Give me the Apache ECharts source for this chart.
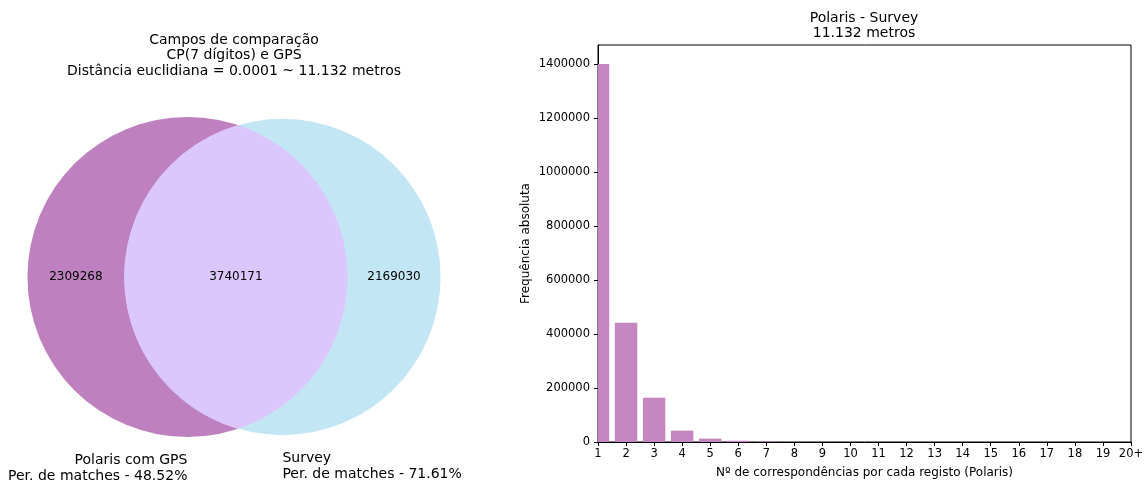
<!DOCTYPE html>
<html>
<head>
<meta charset="utf-8">
<script src="https://cdn.jsdelivr.net/npm/echarts@6/dist/echarts.min.js"></script>
<style>
  html, body { margin: 0; padding: 0; background: #ffffff; }
  #chart { width: 1148px; height: 484px; }
</style>
</head>
<body>
<div id="chart"></div>
<script>
// ---- Venn diagram: record overlap between the two sources ----
const vennTitle = ['Campos de comparação', 'CP(7 dígitos) e GPS', 'Distância euclidiana = 0.0001 ~ 11.132 metros'];
const vennSetLabels = ['Polaris com GPS\nPer. de matches - 48.52%', 'Survey\nPer. de matches - 71.61%'];
const vennOnlyA = 2309268;   // Polaris com GPS only
const vennBoth = 3740171;    // in both
const vennOnlyB = 2169030;   // Survey only

// ---- Histogram: number of matches per Polaris record ----
const barTitle = ['Polaris - Survey', '11.132 metros'];
const matchCounts = [1, 2, 3, 4, 5, 6, 7, 8, 9, 10, 11, 12, 13, 14, 15, 16, 17, 18, 19, 20];
const matchTickLabels = ['1', '2', '3', '4', '5', '6', '7', '8', '9', '10', '11', '12', '13', '14', '15', '16', '17', '18', '19', '20+'];
const matchFrequency = [1400000, 442000, 164000, 42000, 12500, 4800, 1500, 700, 350, 200, 120, 80, 50, 35, 25, 20, 15, 10, 8, 20];
const freqTicks = [0, 200000, 400000, 600000, 800000, 1000000, 1200000, 1400000];

const FONT = 'DejaVu Sans';
const colA = '#bf80bf';
const colB = '#c3e6f5';
const colAB = '#dcc7fc';
const barColor = '#c585c0';
const barWidthFrac = 0.8;

// Circle radii proportional to set areas; centre distance solved so the lens area equals the intersection.
const areaA = vennOnlyA + vennBoth;
const areaB = vennOnlyB + vennBoth;
const rA = Math.sqrt(areaA / Math.PI);
const rB = Math.sqrt(areaB / Math.PI);
function lensArea(d) {
  if (d >= rA + rB) return 0;
  if (d <= Math.abs(rA - rB)) return Math.PI * Math.min(rA, rB) ** 2;
  const a = rA * rA * Math.acos((d * d + rA * rA - rB * rB) / (2 * d * rA));
  const b = rB * rB * Math.acos((d * d + rB * rB - rA * rA) / (2 * d * rB));
  const c = 0.5 * Math.sqrt((-d + rA + rB) * (d + rA - rB) * (d - rA + rB) * (d + rA + rB));
  return a + b - c;
}
let lo = Math.abs(rA - rB), hi = rA + rB;
for (let i = 0; i < 200; i++) {
  const mid = (lo + hi) / 2;
  if (lensArea(mid) > vennBoth) lo = mid; else hi = mid;
}
const dist = (lo + hi) / 2;
const xA = (rA - rB - dist) / 2;   // centre the pair horizontally
const xB = xA + dist;
const pad = (rA + rB) / 2 * 0.1;

const vennGrid = { left: 0, top: 117, width: 468, height: 320 };
const vennHalfW = rA * vennGrid.width / vennGrid.height;

const regionLabels = [
  [((xA - rA) + (xB - rB)) / 2, 0, vennOnlyA],
  [((xB - rB) + (xA + rA)) / 2, 0, vennBoth],
  [((xA + rA) + (xB + rB)) / 2, 0, vennOnlyB]
];

const chart = echarts.init(document.getElementById('chart'), null, { renderer: 'canvas' });

chart.setOption({
  animation: false,
  backgroundColor: '#ffffff',
  textStyle: { fontFamily: FONT },
  title: [
    {
      text: vennTitle.join('\n'),
      left: 234, top: 32, textAlign: 'center', padding: 0,
      textStyle: { fontFamily: FONT, fontSize: 14, fontWeight: 'normal', color: '#000', lineHeight: 15.8 }
    },
    {
      text: barTitle.join('\n'),
      left: 864, top: 11, textAlign: 'center', padding: 0,
      textStyle: { fontFamily: FONT, fontSize: 14, fontWeight: 'normal', color: '#000', lineHeight: 15 }
    }
  ],
  grid: [
    Object.assign({ show: false }, vennGrid),
    { left: 598, right: 17, top: 45, bottom: 42, show: true, borderColor: '#000', borderWidth: 1, backgroundColor: 'transparent' }
  ],
  xAxis: [
    { gridIndex: 0, type: 'value', min: -vennHalfW, max: vennHalfW, show: false },
    {
      gridIndex: 1, type: 'value', min: 1, max: 20, interval: 1,
      name: 'Nº de correspondências por cada registo (Polaris)',
      nameLocation: 'middle', nameGap: 25,
      nameTextStyle: { fontFamily: FONT, fontSize: 12, color: '#000' },
      axisLine: { show: true, lineStyle: { color: '#000', width: 1 } },
      axisTick: { show: true, length: 4, lineStyle: { color: '#000' } },
      axisLabel: {
        color: '#000', fontFamily: FONT, fontSize: 11.5, margin: 6,
        formatter: v => matchTickLabels[matchCounts.indexOf(v)] || ''
      },
      splitLine: { show: false }
    }
  ],
  yAxis: [
    { gridIndex: 0, type: 'value', min: -rA, max: rA, show: false },
    {
      gridIndex: 1, type: 'value', min: 0, max: 1470000, interval: 200000,
      name: 'Frequência absoluta',
      nameLocation: 'middle', nameGap: 66, nameRotate: 90,
      nameTextStyle: { fontFamily: FONT, fontSize: 12, color: '#000' },
      axisLine: { show: true, lineStyle: { color: '#000', width: 1 } },
      axisTick: { show: true, length: 4, lineStyle: { color: '#000' }, customValues: freqTicks },
      axisLabel: {
        color: '#000', fontFamily: FONT, fontSize: 11.5, margin: 8, align: 'right',
        customValues: freqTicks, formatter: v => String(v)
      },
      splitLine: { show: false }
    }
  ],
  series: [
    {
      // the two set circles
      type: 'custom', xAxisIndex: 0, yAxisIndex: 0, silent: true,
      encode: { x: 0, y: 1 },
      data: [[xA, 0, rA, 0], [xB, 0, rB, 1]],
      renderItem: (params, api) => {
        const c = api.coord([api.value(0), api.value(1)]);
        const r = api.size([api.value(2), 0])[0];
        return { type: 'circle', shape: { cx: c[0], cy: c[1], r: r }, style: { fill: api.value(3) === 0 ? colA : colB } };
      }
    },
    {
      // intersection lens
      type: 'custom', xAxisIndex: 0, yAxisIndex: 0, silent: true,
      encode: { x: [0, 3], y: [1, 4] },
      data: [[xA, 0, rA, xB, 0, rB]],
      renderItem: (params, api) => {
        const cA = api.coord([api.value(0), api.value(1)]);
        const cB = api.coord([api.value(3), api.value(4)]);
        const RA = api.size([api.value(2), 0])[0];
        const RB = api.size([api.value(5), 0])[0];
        const D = cB[0] - cA[0];
        const a = (D * D + RA * RA - RB * RB) / (2 * D);
        const phiA = Math.acos(a / RA);
        const phiB = Math.acos((D - a) / RB);
        const pts = [];
        const n = 120;
        for (let i = 0; i <= n; i++) {
          const t = -phiA + 2 * phiA * i / n;
          pts.push([cA[0] + RA * Math.cos(t), cA[1] + RA * Math.sin(t)]);
        }
        for (let i = 0; i <= n; i++) {
          const t = Math.PI - phiB + 2 * phiB * i / n;
          pts.push([cB[0] + RB * Math.cos(t), cB[1] + RB * Math.sin(t)]);
        }
        return { type: 'polygon', shape: { points: pts }, style: { fill: colAB } };
      }
    },
    {
      // region counts
      type: 'custom', xAxisIndex: 0, yAxisIndex: 0, silent: true,
      encode: { x: 0, y: 1 },
      data: regionLabels,
      renderItem: (params, api) => {
        const c = api.coord([api.value(0), api.value(1)]);
        return {
          type: 'text', z2: 10,
          style: {
            x: c[0], y: c[1], text: String(api.value(2)),
            fill: '#000', fontFamily: FONT, fontSize: 12,
            align: 'center', verticalAlign: 'middle'
          }
        };
      }
    },
    {
      // set names below the circles
      type: 'custom', xAxisIndex: 0, yAxisIndex: 0, silent: true,
      encode: { x: 0, y: 1 },
      data: [[xA, -rA - pad, 0], [xB, -rB - pad, 1]],
      renderItem: (params, api) => {
        const c = api.coord([api.value(0), api.value(1)]);
        const idx = api.value(2);
        return {
          type: 'text',
          style: {
            x: c[0], y: c[1], text: vennSetLabels[idx],
            fill: '#000', fontFamily: FONT, fontSize: 14, lineHeight: 15.5,
            align: idx === 0 ? 'right' : 'left', verticalAlign: 'top'
          }
        };
      }
    },
    {
      // histogram bars, clipped to the plot frame
      type: 'custom', xAxisIndex: 1, yAxisIndex: 1, silent: true, clip: true,
      encode: { x: 0, y: 1 },
      data: matchCounts.map((k, i) => [k, matchFrequency[i]]),
      renderItem: (params, api) => {
        const k = api.value(0), v = api.value(1);
        const p0 = api.coord([k - barWidthFrac / 2, v]);
        const p1 = api.coord([k + barWidthFrac / 2, 0]);
        return {
          type: 'rect',
          shape: { x: p0[0], y: p0[1], width: p1[0] - p0[0], height: p1[1] - p0[1] },
          style: { fill: barColor }
        };
      }
    }
  ]
});
</script>
</body>
</html>
